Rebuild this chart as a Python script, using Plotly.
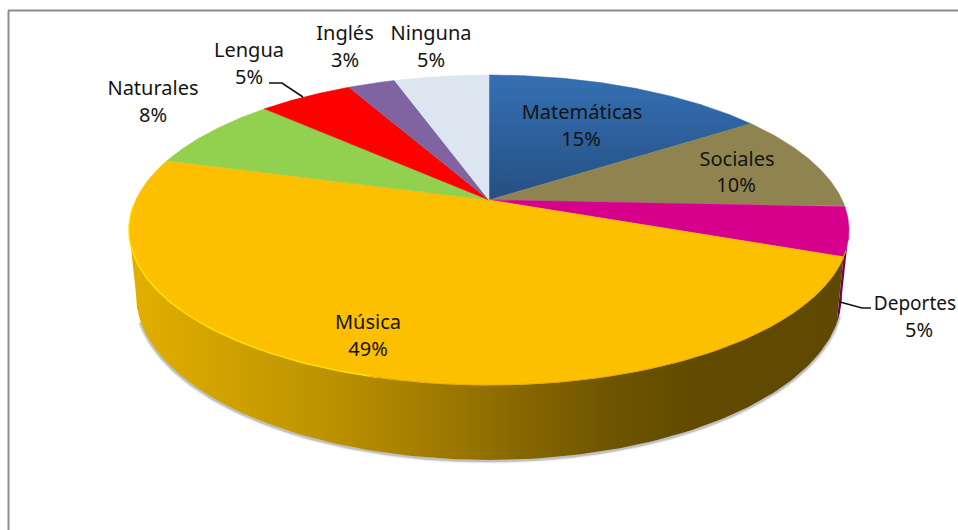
import numpy as np
import plotly.graph_objects as go

# --- data ---
categories = ["Matemáticas", "Sociales", "Deportes", "Música", "Naturales", "Lengua", "Inglés", "Ninguna"]
counts = [6, 4, 2, 19, 3, 2, 1, 2]
colors = ["#2F64A3", "#8F8450", "#D6008C", "#FDC000", "#92D050", "#FF0000", "#8064A2", "#DCE6F1"]

# --- label placement (page pixels) ---
label_x = [582, 737, 915, 368, 153, 249, 345, 431]
label_y = [114, 161, 305, 324, 90, 52, 35, 35]
pct_x = [581, 736, 919, 368, 153, 249, 345, 431]
pct_y = [141, 187, 332, 351, 117, 79, 62, 62]
leader_lengua_x = [269, 282, 303]
leader_lengua_y = [83, 83, 97]
leader_deportes_x = [840, 862, 871]
leader_deportes_y = [302, 308, 308]

# --- projection of the tilted disc ---
CX, CY = 489.0, 200.0
A, B, K = 353.2, 149.2, 0.1935
M, D = 0.02, 64.6
FONT = "Noto Sans"


def rim(theta_deg, bottom=False):
    t = np.radians(np.asarray(theta_deg, dtype=float))
    u, v = np.sin(t), np.cos(t)
    w = 1 + K * v
    x, y = A * u / w, -B * v / w
    if bottom:
        x, y = x / (1 + M), y / (1 + M) + D / (w * (1 + M))
    return CX + x, CY + y


total = sum(counts)
percent = [round(100 * c / total) for c in counts]
edges = np.concatenate([[0], np.cumsum(counts)]) * 360 / total
fig = go.Figure()


def side(t0, t1, **kw):
    th = np.linspace(t0, t1, 160)
    xt, yt = rim(th)
    xb, yb = rim(th, True)
    fig.add_trace(go.Scatter(x=np.r_[xt, xb[::-1]], y=np.r_[yt, yb[::-1]], mode="lines",
                             fill="toself", line=dict(width=0), **kw))


# soft shadow under the side wall
th = np.linspace(108, 250, 200)
sx, sy = rim(th, True)
for width, alpha in [(6, 0.06), (4, 0.12), (2.5, 0.2)]:
    fig.add_trace(go.Scatter(x=sx, y=sy + 1, mode="lines",
                             line=dict(color=f"rgba(70,70,70,{alpha})", width=width)))

# side walls
side(101, edges[3], fillcolor="#6E0058")
side(edges[3], 259, fillgradient=dict(
    type="horizontal",
    colorscale=[[0, "#E3B000"], [0.12, "#D2A300"], [0.28, "#BC9200"], [0.42, "#A27C00"],
                [0.55, "#876700"], [0.68, "#6E5400"], [0.8, "#614A00"], [1, "#5F4800"]]))

# top of the pie
for i, name in enumerate(categories):
    th = np.linspace(edges[i], edges[i + 1], 90)
    x, y = rim(th)
    kw = dict(fillcolor=colors[i])
    if name == "Matemáticas":
        kw = dict(fillgradient=dict(type="vertical",
                                    colorscale=[[0, "#254F82"], [1, "#3570B4"]]))
    fig.add_trace(go.Scatter(x=np.r_[CX, x, CX], y=np.r_[CY, y, CY], mode="lines", fill="toself",
                             line=dict(width=0.5, color=colors[i]), name=name, **kw))

# bright bevel along the front rim of the large slice
th = np.linspace(195, 268, 80)
hx, hy = rim(th)
fig.add_trace(go.Scatter(x=hx, y=hy, mode="lines", line=dict(color="#FFE000", width=1.5)))
th = np.linspace(edges[3] - 2, 196, 80)
hx, hy = rim(th)
fig.add_trace(go.Scatter(x=hx, y=hy, mode="lines", line=dict(color="#E8AE00", width=1)))

# leader lines
for lx, ly in [(leader_lengua_x, leader_lengua_y), (leader_deportes_x, leader_deportes_y)]:
    fig.add_trace(go.Scatter(x=lx, y=ly, mode="lines", line=dict(color="#111111", width=1.6)))

# labels
font = dict(family=FONT, size=20, color="#141414")
text_sizes = [19 if name == "Deportes" else 20 for name in categories]
fig.add_trace(go.Scatter(x=label_x, y=label_y, mode="text", text=categories,
                         textposition="middle center", textfont=dict(font, size=text_sizes),
                         cliponaxis=False))
fig.add_trace(go.Scatter(x=pct_x, y=pct_y, mode="text", text=[f"{p}%" for p in percent],
                         textposition="middle center", textfont=font, cliponaxis=False))

# chart frame (top and left edges only)
frame = dict(type="line", xref="paper", yref="paper", line=dict(color="#8C8C8C", width=2), layer="above")
fig.update_layout(
    width=958, height=530, margin=dict(l=0, r=0, t=0, b=0),
    paper_bgcolor="white", plot_bgcolor="white", showlegend=False, hovermode=False,
    xaxis=dict(range=[0, 958], visible=False, fixedrange=True),
    yaxis=dict(range=[530, 0], visible=False, fixedrange=True),
    shapes=[
        dict(frame, x0=8.5 / 958, x1=8.5 / 958, y0=0, y1=1 - 10.5 / 530),
        dict(frame, x0=8 / 958, x1=1, y0=1 - 10.5 / 530, y1=1 - 10.5 / 530),
    ],
)

fig.write_html("out.html", config=dict(displayModeBar=False),
               post_script="document.body.style.margin='0';document.body.style.overflow='hidden';")
